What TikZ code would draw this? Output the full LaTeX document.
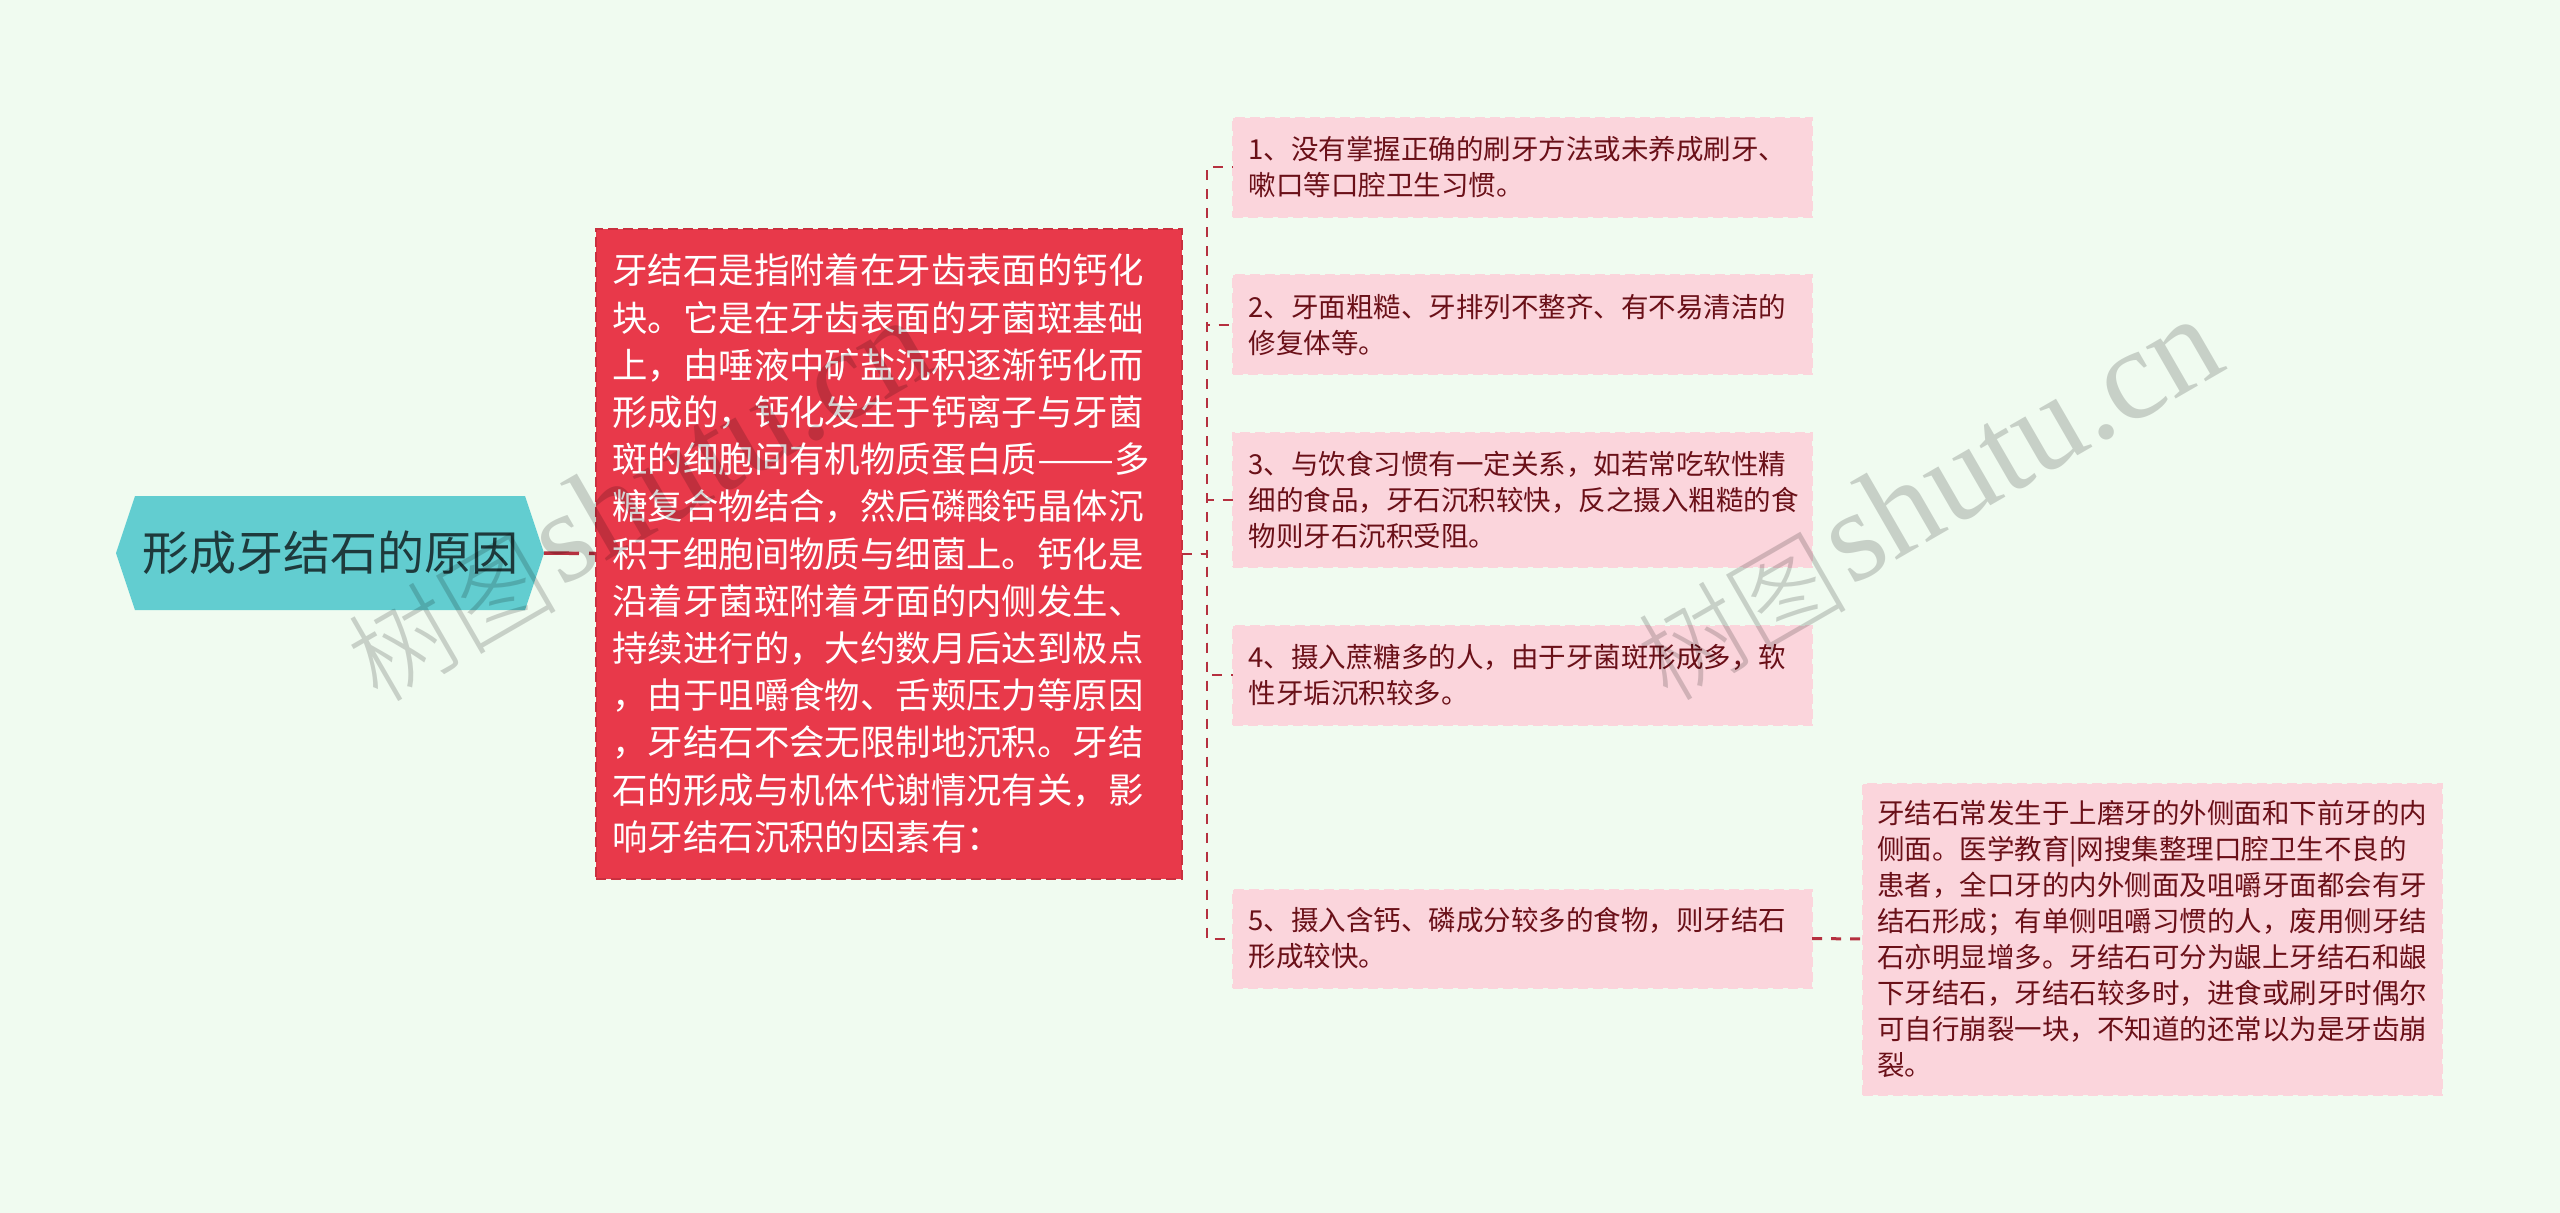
\documentclass[tikz,border=0pt]{standalone}
\usepackage{fontspec}
\usepackage{graphicx}
\setmainfont{Noto Sans CJK SC}
\newfontfamily\wmcjk[UprightFont={* Light}]{Noto Sans CJK SC}
\newfontfamily\wmlatin{Liberation Serif}
\definecolor{bgc}{HTML}{F0FBF0}
\definecolor{rootc}{HTML}{62CDD0}
\definecolor{roottext}{HTML}{1E3A3C}
\definecolor{redc}{HTML}{E8394A}
\definecolor{redb}{HTML}{C9303F}
\definecolor{pinkc}{HTML}{FBD5DC}
\definecolor{leaftext}{HTML}{6A1018}
\definecolor{linkc}{HTML}{B5303F}
\tikzset{
  pagebg/.style={fill=bgc},
  rootshape/.style={fill=rootc},
  roottitle/.style={inner sep=0pt,outer sep=0pt,minimum width=428pt,minimum height=114pt,text=roottext,font=\fontsize{47}{56}\selectfont},
  redbox/.style={fill=redc,draw=redb,line width=2pt,dash pattern=on 10pt off 5pt,outer sep=0pt,inner xsep=0pt,inner ysep=0pt,
     text=white,align=left,font=\fontsize{35.4}{47.2}\selectfont},
  leafbox/.style={fill=pinkc,draw=pinkc,line width=2pt,dash pattern=on 10pt off 5pt,outer sep=0pt,inner xsep=0pt,inner ysep=0pt,
     text=leaftext,align=left,font=\fontsize{27.5}{36}\selectfont},
  mainlink/.style={draw=linkc,line width=3.5pt,dash pattern=on 35pt off 10pt},
  thinlink/.style={draw=linkc,line width=2pt,dash pattern=on 10pt off 9pt},
  wmark/.style={text=black,text opacity=.17,anchor=base west,rotate=30,inner sep=0pt,font=\wmcjk\fontsize{105}{105}\selectfont},
}
\begin{document}
\begin{tikzpicture}[x=1pt,y=-1pt]
\useasboundingbox (0,0) rectangle (2560,1213);
\fill[pagebg] (0,0) rectangle (2560,1213);
\fill[rootshape] (116,553) -- (135,496) -- (525,496) -- (544,553) -- (525,610) -- (135,610) -- cycle;
\node[roottitle] (root) at (330,553) {形成牙结石的原因};
\node[redbox,minimum width=586pt,minimum height=650pt,text width=552pt] (main) at (888.5,553.5) {牙结石是指附着在牙齿表面的钙化\\块。它是在牙齿表面的牙菌斑基础\\上，由唾液中矿盐沉积逐渐钙化而\\形成的，钙化发生于钙离子与牙菌\\斑的细胞间有机物质蛋白质\scalebox{1.3}[1]{——}多\\糖复合物结合，然后磷酸钙晶体沉\\积于细胞间物质与细菌上。钙化是\\沿着牙菌斑附着牙面的内侧发生、\\持续进行的，大约数月后达到极点\\，由于咀嚼食物、舌颊压力等原因\\，牙结石不会无限制地沉积。牙结\\石的形成与机体代谢情况有关，影\\响牙结石沉积的因素有：};
\node[leafbox,minimum width=579pt,minimum height=99pt,text width=548pt] (l1) at (1522.5,167) {1、没有掌握正确的刷牙方法或未养成刷牙、\\嗽口等口腔卫生习惯。};
\node[leafbox,minimum width=579pt,minimum height=99pt,text width=548pt] (l2) at (1522.5,324.5) {2、牙面粗糙、牙排列不整齐、有不易清洁的\\修复体等。};
\node[leafbox,minimum width=579pt,minimum height=134pt,text width=548pt] (l3) at (1522.5,499.5) {3、与饮食习惯有一定关系，如若常吃软性精\\细的食品，牙石沉积较快，反之摄入粗糙的食\\物则牙石沉积受阻。};
\node[leafbox,minimum width=579pt,minimum height=99pt,text width=548pt] (l4) at (1522.5,675) {4、摄入蔗糖多的人，由于牙菌斑形成多，软\\性牙垢沉积较多。};
\node[leafbox,minimum width=579pt,minimum height=98pt,text width=548pt] (l5) at (1522.5,938.5) {5、摄入含钙、磷成分较多的食物，则牙结石\\形成较快。};
\node[leafbox,minimum width=579pt,minimum height=311pt,text width=550pt] (l6) at (2152,939) {牙结石常发生于上磨牙的外侧面和下前牙的内\\侧面。医学教育|网搜集整理口腔卫生不良的\\患者，全口牙的内外侧面及咀嚼牙面都会有牙\\结石形成；有单侧咀嚼习惯的人，废用侧牙结\\石亦明显增多。牙结石可分为龈上牙结石和龈\\下牙结石，牙结石较多时，进食或刷牙时偶尔\\可自行崩裂一块，不知道的还常以为是牙齿崩\\裂。};
\draw[mainlink] (root.east) -- (main.west);
\foreach \leaf in {l1,l2,l3,l4,l5}{
  \draw[thinlink] (main.east) -- ++(25,0) |- (\leaf.west);
}
\draw[thinlink,line width=3pt] (l5.east) -- (l6.west);
\coordinate (wa) at (378,705);
\coordinate (wb) at (1668,704);
\node[wmark] (w1) at (wa) {树图\hspace{7pt}\raisebox{10pt}{\wmlatin\fontsize{130}{130}\selectfont shutu.cn}};
\node[wmark] (w2) at (wb) {树图\hspace{7pt}\raisebox{10pt}{\wmlatin\fontsize{130}{130}\selectfont shutu.cn}};
\end{tikzpicture}
\end{document}
